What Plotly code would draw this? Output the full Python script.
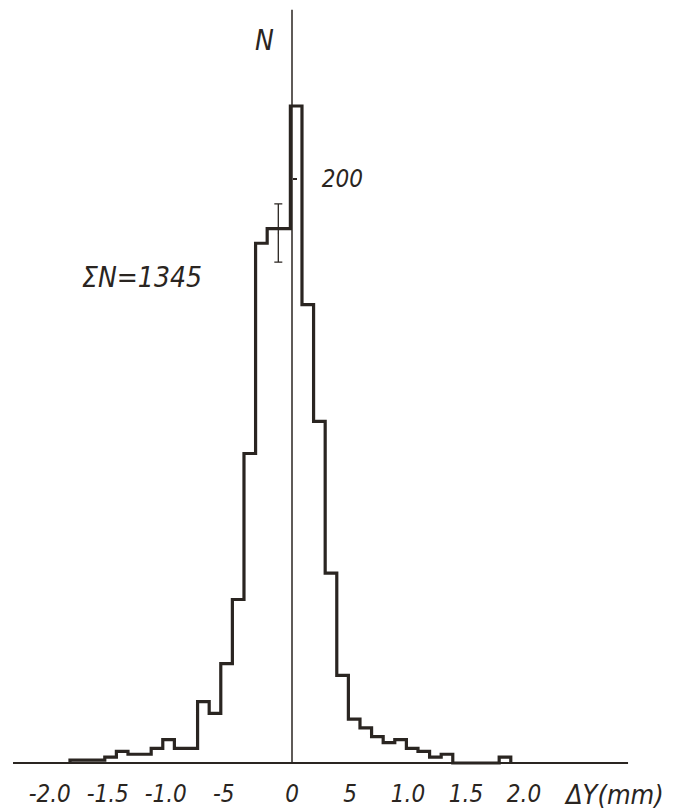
import plotly.graph_objects as go

# ---- data ----
bin_start = -1.914      # left edge of first bin (mm)
bin_width = 0.1         # mm
counts = [1, 1, 1, 2, 4, 3, 3, 5, 8, 5, 5, 21, 17, 34, 56, 106, 178, 183, 183,
          225, 157, 117, 65, 30, 15, 12, 9, 7, 8, 5, 4, 2, 3, 0, 0, 0, 0, 2]
tick_vals = [-2.0, -1.5, -1.0, -0.5, 0.0, 0.5, 1.0, 1.5, 2.0]
tick_text = ["-2.0", "-1.5", "-1.0", "-5", "0", "5", "1.0", "1.5", "2.0"]
y_tick_vals = [200]
y_tick_text = ["200"]
err_x = [-0.118]
err_y = [181.5]
err_half = [10]
total_label = "ΣN=1345"

INK = "#2a2521"
FONT = "Liberation Sans Narrow, DejaVu Sans Condensed, Liberation Sans, sans-serif"

# page body has an 8px margin: figure drawn at page offset (8, 8)
OFF = 8
W, H = 674 - OFF, 811 - OFF
X0_PX, PX_PER_MM = 292, 116      # page px of x=0, px per mm
Y0_PX, PX_PER_N = 763, 2.92      # page px of N=0, px per count

def nb(label):
    # negative labels: minus sign hangs to the left of the digits
    return label + "\u00a0" * 3 if label.startswith("-") else label

# step outline
edges = [bin_start + i * bin_width for i in range(len(counts) + 1)]
xs, ys = [edges[0]], [0]
for i, c in enumerate(counts):
    xs += [edges[i], edges[i + 1]]
    ys += [c, c]
xs.append(edges[-1])
ys.append(0)

fig = go.Figure()
fig.add_trace(go.Scatter(x=xs, y=ys, mode="lines",
                         line=dict(color=INK, width=3.2), hoverinfo="skip"))
fig.add_trace(go.Scatter(x=err_x, y=err_y, mode="markers",
                         marker=dict(size=1, color=INK),
                         error_y=dict(type="data", array=err_half, visible=True,
                                      color=INK, thickness=1.3, width=4)))

# axes lines
fig.add_shape(type="line", x0=-2.405, x1=2.897, y0=0, y1=0,
              line=dict(color=INK, width=2.2))
fig.add_shape(type="line", x0=0, x1=0, y0=0, y1=258,
              line=dict(color=INK, width=1.5))

fig.add_annotation(x=(614 - OFF) / W, y=(811 - 794) / H, xref="paper", yref="paper",
                   xanchor="center", yanchor="middle",
                   showarrow=False, text="ΔY(mm)",
                   font=dict(family=FONT, size=27, color=INK, style="italic"))
fig.add_annotation(x=-0.241, y=247.6, xref="x", yref="y", showarrow=False,
                   xanchor="center", yanchor="middle",
                   text="N", font=dict(family=FONT, size=28, color=INK, style="italic"))
fig.add_annotation(x=-1.293, y=166.4, xref="x", yref="y", showarrow=False,
                   xanchor="center", yanchor="middle",
                   text=total_label, font=dict(family=FONT, size=28, color=INK, style="italic"))

fig.update_layout(
    width=W, height=H,
    margin=dict(l=0, r=0, t=0, b=0, autoexpand=False),
    paper_bgcolor="white", plot_bgcolor="white",
    showlegend=False,
    xaxis=dict(range=[(OFF - X0_PX) / PX_PER_MM, (674 - X0_PX) / PX_PER_MM],
               anchor="free", position=(811 - Y0_PX) / H, automargin=False,
               showgrid=False, zeroline=False, showline=False, ticks="",
               tickvals=tick_vals, ticktext=[nb(t) for t in tick_text],
               tickangle=0, ticklabelstandoff=14,
               tickfont=dict(family=FONT, size=24, color=INK, style="italic")),
    yaxis=dict(range=[(Y0_PX - 811) / PX_PER_N, (Y0_PX - OFF) / PX_PER_N],
               anchor="free", position=(X0_PX - OFF) / W, automargin=False,
               side="right", showgrid=False, zeroline=False, showline=False,
               tickvals=y_tick_vals, ticktext=y_tick_text, ticks="outside",
               ticklen=4, tickwidth=1.5, tickcolor=INK, ticklabelstandoff=20,
               tickfont=dict(family=FONT, size=24, color=INK, style="italic")),
)

fig.write_html("out.html")
